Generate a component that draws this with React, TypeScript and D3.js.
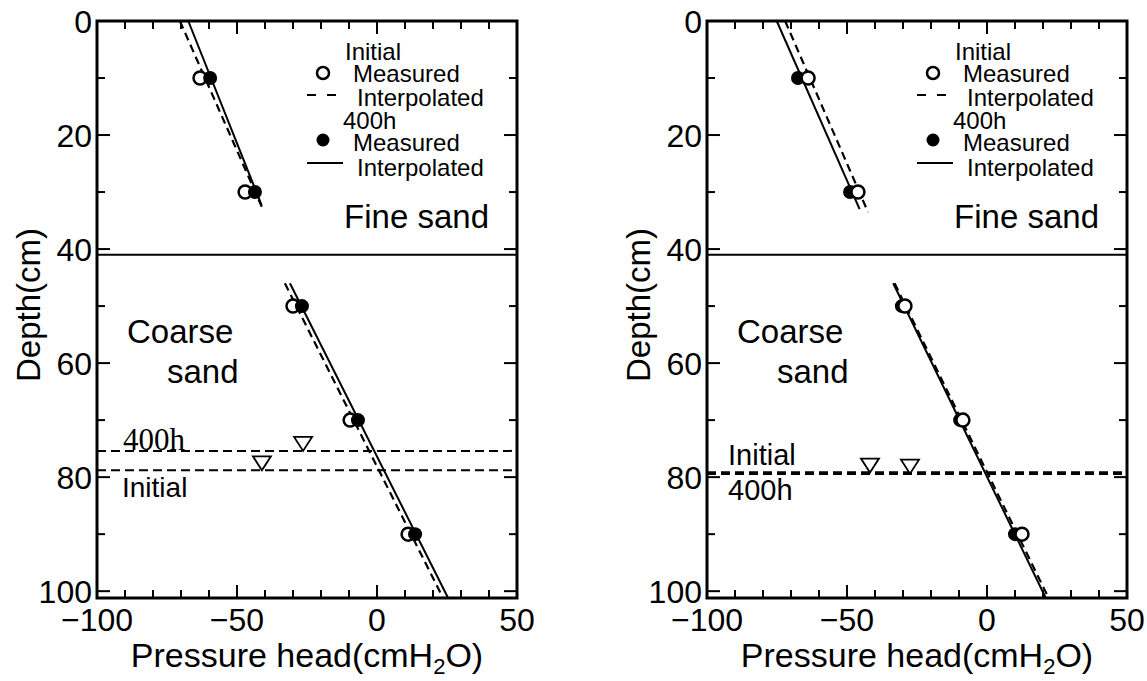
import React from 'react';
import * as d3 from 'd3';

// measured depths (cm) and pressure heads (cmH2O)
const depths = [10, 30, 50, 70, 90];
const leftInitial = [-63.2, -47.1, -30.0, -9.6, 11.1];
const left400h = [-59.6, -43.6, -26.8, -6.8, 13.6];
const rightInitial = [-63.9, -46.1, -29.3, -8.6, 12.5];
const right400h = [-67.5, -48.9, -30.4, -9.6, 10.0];

// interpolated profiles, [depth, head] end points per layer
const leftInitialFit = [[[0, -70.4], [33.2, -40.6]], [[46, -32.9], [101.2, 23.6]]];
const left400hFit = [[[0, -67.4], [32.3, -41.2]], [[46, -31.1], [101.2, 25.4]]];
const rightInitialFit = [[[0, -72.1], [33.5, -42.5]], [[46, -33.0], [101.2, 22.0]]];
const right400hFit = [[[0, -75.1], [33, -45.5]], [[46, -33.5], [101.2, 21.0]]];

const layerBoundary = 41;
// water tables: depth of the line, head where the triangle sits
const leftTableInitial = [78.8, -41.1];
const leftTable400h = [75.4, -26.4];
const rightTableInitial = [79.2, -41.8];
const rightTable400h = [79.4, -27.5];

const xTicks = [-100, -50, 0, 50];
const yTicks = [0, 20, 40, 60, 80, 100];

const PW = 420;
const PH = 577;
const TOP = 21;
const SANS = "'Liberation Sans', Arial, sans-serif";

function Panel({ x0, initial, h400, initialFit, h400Fit, tableInitial, table400h, openOnTop, right }) {
  const x = d3.scaleLinear().domain([-100, 50]).range([0, PW]);
  const y = d3.scaleLinear().domain([0, 101.2]).range([0, PH]);
  const line = d3.line().x(d => x(d[1])).y(d => y(d[0]));

  const xMinor = d3.range(-90, 50, 10);
  const yMinor = d3.range(10, 101, 10);
  const tri = (hx, d) => `M${x(hx) - 9},${y(d) - 14}L${x(hx) + 9},${y(d) - 14}L${x(hx)},${y(d)}Z`;

  const openMarks = depths.map((d, i) => (
    <circle key={'o' + i} cx={x(initial[i])} cy={y(d)} r={6.5} fill="#fff" stroke="#000" strokeWidth={2.5} />
  ));
  const fillMarks = depths.map((d, i) => (
    <circle key={'f' + i} cx={x(h400[i])} cy={y(d)} r={7} fill="#000" />
  ));

  return (
    <g transform={`translate(${x0},${TOP})`}>
      {/* ticks */}
      {xMinor.map(v => {
        const len = v % 50 === 0 ? 13 : 8;
        return (
          <g key={'xt' + v} stroke="#000" strokeWidth={2}>
            <line x1={x(v)} x2={x(v)} y1={0} y2={len} />
            <line x1={x(v)} x2={x(v)} y1={PH} y2={PH - len} />
          </g>
        );
      })}
      {yMinor.map(v => {
        const len = v % 20 === 0 ? 13 : 8;
        return (
          <g key={'yt' + v} stroke="#000" strokeWidth={2}>
            <line x1={0} x2={len} y1={y(v)} y2={y(v)} />
            <line x1={PW} x2={PW - len} y1={y(v)} y2={y(v)} />
          </g>
        );
      })}
      <rect x={0} y={0} width={PW} height={PH} fill="none" stroke="#000" strokeWidth={3} />

      {/* tick labels */}
      {xTicks.map(v => (
        <text key={'xl' + v} x={x(v)} y={PH + 33} textAnchor="middle" fontSize={32} fontFamily={SANS}>
          {v < 0 ? '\u2212' + Math.abs(v) : v}
        </text>
      ))}
      {yTicks.map(v => (
        <text key={'yl' + v} x={-5} y={y(v)} dy="0.36em" textAnchor="end" fontSize={32} fontFamily={SANS}>
          {v}
        </text>
      ))}
      <text transform={`translate(${-69},${284}) rotate(-90)`} dy="0.36em" textAnchor="middle" fontSize={33} fontFamily={SANS}>
        Depth(cm)
      </text>
      <text x={PW / 2} y={PH + 69} textAnchor="middle" fontSize={34} fontFamily={SANS}>
        Pressure head(cmH<tspan fontSize={22} dy={7}>2</tspan><tspan dy={-7}>O)</tspan>
      </text>

      {/* layer boundary */}
      <line x1={0} x2={PW} y1={y(layerBoundary)} y2={y(layerBoundary)} stroke="#000" strokeWidth={2} />

      {/* water tables */}
      <line x1={0} x2={PW} y1={y(tableInitial[0])} y2={y(tableInitial[0])} stroke="#000"
        strokeWidth={right ? 2.5 : 2} strokeDasharray="9,5" />
      <line x1={0} x2={PW} y1={y(table400h[0])} y2={y(table400h[0])} stroke="#000"
        strokeWidth={right ? 2.5 : 2} strokeDasharray="9,5" />
      <path d={tri(tableInitial[1], tableInitial[0])} fill="#fff" stroke="#000" strokeWidth={1.8} />
      <path d={tri(table400h[1], table400h[0])} fill="#fff" stroke="#000" strokeWidth={1.8} />

      {right ? (
        <g fontSize={29} fontFamily={SANS}>
          <text x={21} y={y(tableInitial[0]) - 8}>Initial</text>
          <text x={21} y={y(table400h[0]) + 26}>400h</text>
        </g>
      ) : (
        <g>
          <text x={26} y={y(table400h[0]) - 1} fontSize={31} fontFamily="'Liberation Serif', serif">400h</text>
          <text x={25} y={y(tableInitial[0]) + 27} fontSize={28} fontFamily={SANS}>Initial</text>
        </g>
      )}

      {/* interpolated profiles */}
      {initialFit.map((seg, i) => (
        <path key={'di' + i} d={line(seg)} fill="none" stroke="#000" strokeWidth={2.2} strokeDasharray="8,5" />
      ))}
      {h400Fit.map((seg, i) => (
        <path key={'sh' + i} d={line(seg)} fill="none" stroke="#000" strokeWidth={2} />
      ))}

      {/* measured */}
      {openOnTop ? fillMarks : openMarks}
      {openOnTop ? openMarks : fillMarks}

      {/* layer names */}
      <g fontSize={33} fontFamily={SANS}>
        <text x={392} y={207} textAnchor="end">Fine sand</text>
        <text x={30} y={322}>Coarse</text>
        <text x={70} y={362}>sand</text>
      </g>

      {/* legend */}
      <g fontSize={24} fontFamily={SANS}>
        <text x={248} y={39}>Initial</text>
        <circle cx={226} cy={52} r={6} fill="#fff" stroke="#000" strokeWidth={2.5} />
        <text x={256} y={61}>Measured</text>
        <line x1={210} x2={246} y1={74} y2={74} stroke="#000" strokeWidth={2} strokeDasharray="9,11" />
        <text x={260} y={85}>Interpolated</text>
        <text x={246} y={108}>400h</text>
        <circle cx={226} cy={119} r={6.5} fill="#000" />
        <text x={256} y={130}>Measured</text>
        <line x1={210} x2={246} y1={142} y2={142} stroke="#000" strokeWidth={2} />
        <text x={260} y={155}>Interpolated</text>
      </g>
    </g>
  );
}

export default function App() {
  return (
    <svg width={1147} height={681} style={{ position: 'absolute', left: 0, top: 0, background: '#fff' }}>
      <Panel x0={97} initial={leftInitial} h400={left400h} initialFit={leftInitialFit} h400Fit={left400hFit}
        tableInitial={leftTableInitial} table400h={leftTable400h} openOnTop={false} right={false} />
      <Panel x0={707} initial={rightInitial} h400={right400h} initialFit={rightInitialFit} h400Fit={right400hFit}
        tableInitial={rightTableInitial} table400h={rightTable400h} openOnTop={true} right={true} />
    </svg>
  );
}
